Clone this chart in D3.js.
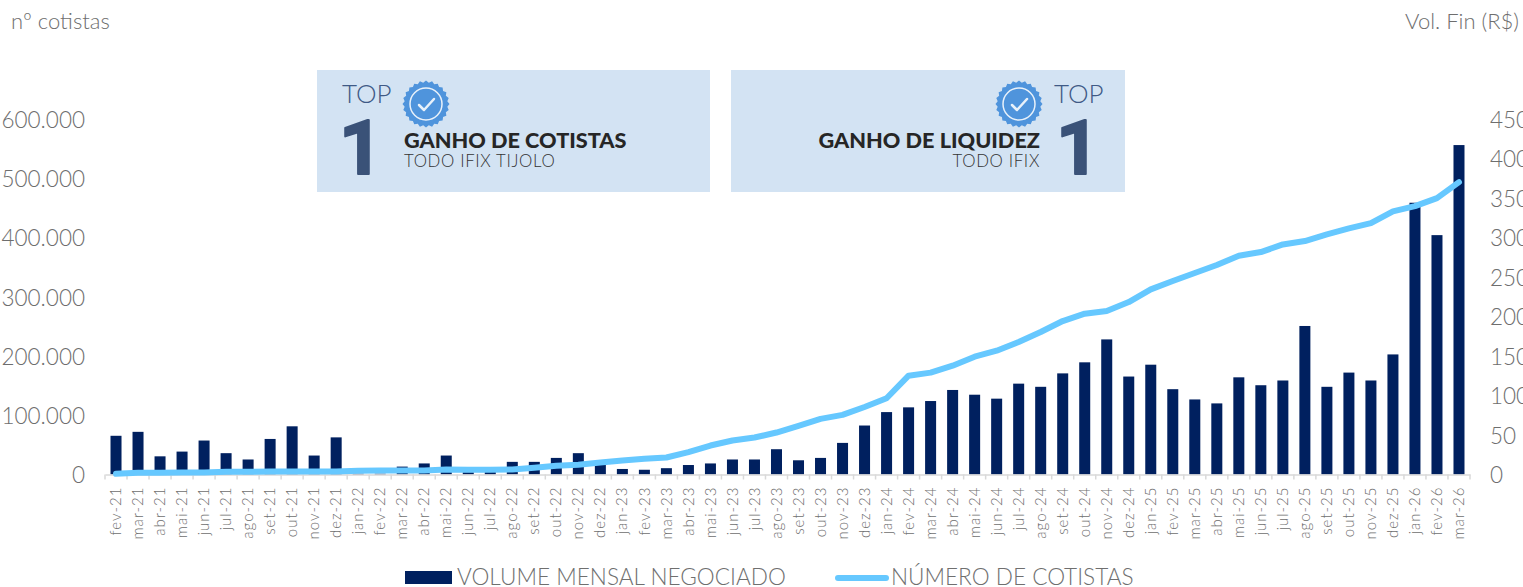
<!DOCTYPE html>
<html>
<head>
<meta charset="utf-8">
<script src="https://cdn.jsdelivr.net/npm/d3@7"></script>
<style>
html, body { margin: 0; padding: 0; background: #fff; overflow: hidden; }
svg { display: block; font-family: Lato, sans-serif; }
</style>
</head>
<body>
<svg></svg>
<script>
const width = 1523;
const height = 587;

//months in the same order as the values below
const meses = [
    "fev-21","mar-21","abr-21","mai-21","jun-21","jul-21","ago-21","set-21","out-21","nov-21","dez-21",
    "jan-22","fev-22","mar-22","abr-22","mai-22","jun-22","jul-22","ago-22","set-22","out-22","nov-22","dez-22",
    "jan-23","fev-23","mar-23","abr-23","mai-23","jun-23","jul-23","ago-23","set-23","out-23","nov-23","dez-23",
    "jan-24","fev-24","mar-24","abr-24","mai-24","jun-24","jul-24","ago-24","set-24","out-24","nov-24","dez-24",
    "jan-25","fev-25","mar-25","abr-25","mai-25","jun-25","jul-25","ago-25","set-25","out-25","nov-25","dez-25",
    "jan-26","fev-26","mar-26"
];

//bars, right axis
const volume = [
    49,54,23,29,43,27,19,45,61,24,47,
    1,1,10,14,24,3,4,16,16,21,27,14,
    7,6,8,12,14,19,19,32,18,21,40,62,
    79,85,93,107,101,96,115,111,128,142,171,124,
    139,108,95,90,123,113,119,188,111,129,119,152,
    344,303,417
];

//line, left axis
const cotistas = [
    1100,2800,2800,3400,3400,4500,4500,5000,5000,5000,5000,
    6200,6700,6700,6700,8400,7900,7900,8400,11200,14600,16300,20200,
    23600,26400,28700,37700,48900,57300,62400,70800,82000,93900,100600,114000,
    128700,166800,171900,183700,198800,209000,223700,240500,259000,271400,276000,291000,
    312500,326500,340000,353500,369200,375400,388300,394000,405200,415300,424300,444000,
    453000,466500,493400
];

const ticksEsq = [0,100000,200000,300000,400000,500000,600000];
const ticksDir = [0,50,100,150,200,250,300,350,400,450];

const corBarra = "#00205f";
const corLinha = "#66c8ff";
const corTexto = "#6e6e6e";

const svg = d3.select("svg").attr("width", width).attr("height", height);

const ptBR = d3.formatLocale({ decimal: ",", thousands: ".", grouping: [3], currency: ["R$", ""] });

//scales
const x = d3.scaleBand().domain(meses).range([105, 1470]).paddingInner(0.5).paddingOuter(0.25);
const yEsq = d3.scaleLinear().domain([0, 600000]).range([474.5, 119]);
const yDir = d3.scaleLinear().domain([0, 450]).range([474.5, 119]);

//bars
svg.append("g").selectAll("rect")
    .data(meses)
    .join("rect")
    .attr("x", d => x(d))
    .attr("width", x.bandwidth())
    .attr("y", (d, i) => yDir(volume[i]))
    .attr("height", (d, i) => yDir(0) - yDir(volume[i]))
    .attr("fill", corBarra);

//category axis, ticks sit between the months
const eixoX = svg.append("g")
    .attr("transform", `translate(0, ${yEsq(0)})`)
    .call(d3.axisBottom(x).tickSize(0).tickPadding(0))
    .attr("font-family", null);
eixoX.select(".domain").attr("stroke", "#d9d9d9").attr("stroke-width", 1.5);
eixoX.selectAll("text")
    .attr("transform", "rotate(-90)")
    .attr("x", -12)
    .attr("y", 0)
    .attr("dy", "0.34em")
    .attr("text-anchor", "end")
    .attr("fill", corTexto)
    .style("font-size", "15px")
    .style("font-weight", 300)
    .style("letter-spacing", "1px");
const limites = d3.range(0, meses.length + 1).map(i => x.range()[0] + i * x.step());
eixoX.selectAll("line.limite")
    .data(limites)
    .join("line")
    .attr("class", "limite")
    .attr("x1", d => d).attr("x2", d => d)
    .attr("y1", 0).attr("y2", 5)
    .attr("stroke", "#d9d9d9")
    .attr("stroke-width", 1.5);

//line
const linha = d3.line().x(d => d[0]).y(d => d[1]);
svg.append("path")
    .datum(meses.map((m, i) => [x(m) + x.bandwidth() / 2, yEsq(cotistas[i])]))
    .attr("d", linha)
    .attr("fill", "none")
    .attr("stroke", corLinha)
    .attr("stroke-width", 6)
    .attr("stroke-linecap", "round")
    .attr("stroke-linejoin", "round");

//value axes
const eixoEsq = svg.append("g")
    .attr("transform", "translate(105, 0)")
    .call(d3.axisLeft(yEsq).tickValues(ticksEsq).tickSize(0).tickPadding(20).tickFormat(ptBR.format(",d")))
    .attr("font-family", null);
const eixoDir = svg.append("g")
    .attr("transform", "translate(1470, 0)")
    .call(d3.axisRight(yDir).tickValues(ticksDir).tickSize(0).tickPadding(20).tickFormat(d3.format("d")))
    .attr("font-family", null);
[eixoEsq, eixoDir].forEach(e => {
    e.select(".domain").remove();
    e.selectAll("text").attr("fill", corTexto).attr("dy", "0.37em").style("font-size", "22.5px").style("font-weight", 300);
});

//axis titles
svg.append("text").attr("x", 11).attr("y", 29).text("nº cotistas")
    .attr("fill", corTexto).style("font-size", "22px").style("font-weight", 300);
svg.append("text").attr("x", 1519).attr("y", 29).attr("text-anchor", "end").text("Vol. Fin (R$)")
    .attr("fill", corTexto).style("font-size", "22px").style("font-weight", 300);

//seal with the check mark
function selo(g, cx, cy) {
    const pontas = d3.range(48).map(i => {
        const a = i / 48 * 2 * Math.PI;
        return [a, i % 2 ? 21.5 : 23.5];
    });
    g.append("path").attr("d", d3.lineRadial().curve(d3.curveLinearClosed)(pontas))
        .attr("transform", `translate(${cx}, ${cy})`).attr("fill", "#4f94dc");
    g.append("circle").attr("cx", cx).attr("cy", cy).attr("r", 16)
        .attr("fill", "none").attr("stroke", "#e8f1fa").attr("stroke-width", 1.5);
    g.append("path").attr("d", `M${cx - 7},${cy + 1} L${cx - 2},${cy + 6} L${cx + 8},${cy - 5}`)
        .attr("fill", "none").attr("stroke", "#e8f1fa").attr("stroke-width", 2.5)
        .attr("stroke-linecap", "round").attr("stroke-linejoin", "round");
}

function quadro(cfg) {
    const g = svg.append("g");
    g.append("rect").attr("x", cfg.x).attr("y", 70).attr("width", cfg.w).attr("height", 122).attr("fill", "#d3e3f3");
    g.append("text").attr("x", cfg.topX).attr("y", 103).text("TOP")
        .attr("fill", "#3f5a86").style("font-size", "26px").style("font-weight", 300);
    g.append("text").attr("x", cfg.umX).attr("y", 174).text("1")
        .attr("fill", "#3a5278").attr("stroke", "#3a5278").attr("stroke-width", 2).attr("stroke-linejoin", "round")
        .style("font-family", "Roboto, sans-serif")
        .style("font-size", "76px").style("font-weight", 700);
    selo(g, cfg.seloX, 104);
    g.append("text").attr("x", cfg.textoX).attr("y", 147.5).attr("text-anchor", cfg.anchor).text(cfg.titulo)
        .attr("fill", "#262626").style("font-size", "21.7px").style("font-weight", 900);
    g.append("text").attr("x", cfg.textoX).attr("y", 166.5).attr("text-anchor", cfg.anchor).text(cfg.sub)
        .attr("fill", "#333").style("font-size", "16.8px").style("font-weight", 300).style("letter-spacing", "0.65px");
}

quadro({ x: 317, w: 393, topX: 342, umX: 339, seloX: 426, textoX: 404, anchor: "start",
    titulo: "GANHO DE COTISTAS", sub: "TODO IFIX TIJOLO" });
quadro({ x: 731, w: 394, topX: 1054, umX: 1056, seloX: 1019, textoX: 1040, anchor: "end",
    titulo: "GANHO DE LIQUIDEZ", sub: "TODO IFIX" });

//legend
const legenda = svg.append("g").style("font-size", "22.6px").style("font-weight", 300).attr("fill", "#6f6f6f");
legenda.append("rect").attr("x", 405).attr("y", 571).attr("width", 47).attr("height", 13).attr("fill", corBarra);
legenda.append("text").attr("x", 457).attr("y", 585).text("VOLUME MENSAL NEGOCIADO");
legenda.append("line").attr("x1", 838).attr("x2", 886).attr("y1", 578).attr("y2", 578)
    .attr("stroke", corLinha).attr("stroke-width", 6).attr("stroke-linecap", "round");
legenda.append("text").attr("x", 891).attr("y", 585).text("NÚMERO DE COTISTAS");
</script>
</body>
</html>
